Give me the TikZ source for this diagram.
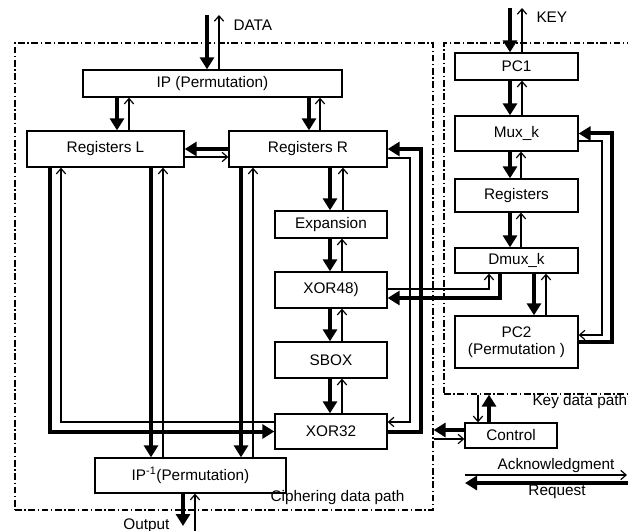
\documentclass[tikz,border=0pt]{standalone}
\usepackage{fontspec}
\setmainfont{Liberation Sans}
\usetikzlibrary{arrows.meta}

\newcommand\blkfont{\fontsize{11.5}{13}\selectfont}

\tikzset{every picture/.style={line width=0.75pt}}
\tikzset{
  blk/.style={draw, line width=1pt, fill=white, inner sep=0.75pt, font=\blkfont},
  midblk/.style={blk, minimum width=84pt},
  keyblk/.style={blk, minimum width=92.25pt},
  frame/.style={draw, line width=0.9pt, dash pattern=on 5pt off 2pt on 1pt off 2pt, inner sep=0pt},
  bus/.style={line width=3pt, -{Triangle[length=9pt,width=10.5pt]}},
  ret/.style={line width=0.9pt, -{Straight Barb[length=4pt,width=7pt]}},
  lbl/.style={inner sep=0.75pt, font=\blkfont}
}

\begin{document}
\begin{tikzpicture}[x=0.75pt,y=0.75pt,yscale=-1,xscale=1]
		\useasboundingbox (0,0) rectangle (628,531);
		
		%Frames
		\node[frame, minimum width=313.5pt, minimum height=350.25pt] (ciph) at (224,276.5) {};
		\node[frame, minimum width=154.5pt, minimum height=263.25pt] (keyf) at (547,218.5) {};
		
		%Ciphering data path
		\node[blk, minimum width=194.25pt, minimum height=20.25pt] (ip) at (212.5,83.5) {IP (Permutation)};
		\node[blk, minimum width=117.75pt, minimum height=27pt] (regL) at (105.5,149) {Registers L};
		\node[blk, minimum width=118.5pt, minimum height=27pt] (regR) at (308,149) {Registers R};
		\node[midblk, minimum height=20.25pt] (expn) at (331,224.5) {Expansion};
		\node[midblk, minimum height=27pt] (xorA) at (331,290) {XOR48)};
		\node[midblk, minimum height=27pt] (sbox) at (331,360) {SBOX};
		\node[midblk, minimum height=26.25pt] (xorB) at (331,431.5) {XOR32};
		\node[blk, minimum width=143.25pt, minimum height=26.25pt] (ipinv) at (190.5,475.5) {IP\textsuperscript{-1}(Permutation)};
		
		%Key data path
		\node[keyblk, minimum height=20.25pt] (pcA) at (516.5,66.5) {PC1};
		\node[keyblk, minimum height=26.25pt] (mux) at (516.5,133.5) {Mux\_k};
		\node[keyblk, minimum height=24.75pt] (kreg) at (516.5,195.5) {Registers};
		\node[keyblk, minimum height=18.75pt] (dmux) at (516.5,260.5) {Dmux\_k};
		\node[keyblk, minimum height=39pt, align=center] (pcB) at (516.5,342) {PC2\\(Permutation )};
		\node[blk, minimum width=69pt, minimum height=18.75pt] (ctrl) at (511,435.5) {Control};
		
		%free ends
		\coordinate (dataA) at (207,15);
		\coordinate (dataB) at (219,15);
		\coordinate (keyA) at (510,8);
		\coordinate (keyB) at (522,8);
		\coordinate (outA) at (183,526);
		\coordinate (outB) at (195,531);
		\coordinate (ackL) at (465,475);
		\coordinate (ackR) at (627,475);
		\coordinate (reqL) at (465,483);
		\coordinate (reqR) at (628,483);
		
		\draw[bus] (dataA) -- (dataA |- ip.north);
		\draw[ret] (dataB |- ip.north) -- (dataB);
		\draw[bus] (ip.south -| 117,0) -- (regL.north -| 117,0);
		\draw[ret] (regL.north -| 129,0) -- (ip.south -| 129,0);
		\draw[bus] (ip.south -| 309,0) -- (regR.north -| 309,0);
		\draw[ret] (regR.north -| 320,0) -- (ip.south -| 320,0);
		\draw[bus] (regR.west) -- (regL.east);
		\draw[ret] (regL.east |- 0,157) -- (regR.west |- 0,157);
		
		\draw[bus] (regR.south -| 330,0) -- (expn.north -| 330,0);
		\draw[ret] (expn.north -| 343,0) -- (regR.south -| 343,0);
		\draw[bus] (expn.south -| 330,0) -- (xorA.north -| 330,0);
		\draw[ret] (xorA.north -| 342,0) -- (expn.south -| 342,0);
		\draw[bus] (xorA.south -| 330,0) -- (sbox.north -| 330,0);
		\draw[ret] (sbox.north -| 342,0) -- (xorA.south -| 342,0);
		\draw[bus] (sbox.south -| 330,0) -- (xorB.north -| 330,0);
		\draw[ret] (xorB.north -| 342,0) -- (sbox.south -| 342,0);
		
		\draw[bus] (regL.south -| 50,0) |- (xorB.west);
		\draw[ret] (xorB.west |- 0,422) -| (regL.south -| 61,0);
		\draw[bus] (regL.south -| 151,0) -- (ipinv.north -| 151,0);
		\draw[ret] (ipinv.north -| 163,0) -- (regL.south -| 163,0);
		\draw[bus] (regR.south -| 241,0) -- (ipinv.north -| 241,0);
		\draw[ret] (ipinv.north -| 253,0) -- (regR.south -| 253,0);
		
		\draw[bus] (xorB.east) -| (421,149) -- (regR.east);
		\draw[ret] (regR.east |- 0,158) -| (410,422) -- (xorB.east |- 0,422);
		
		\draw[bus] (ipinv.south -| outA) -- (outA);
		\draw[ret] (outB) -- (ipinv.south -| outB);
		
		\draw[bus] (keyA) -- (keyA |- pcA.north);
		\draw[ret] (keyB |- pcA.north) -- (keyB);
		\draw[bus] (pcA.south -| 510,0) -- (mux.north -| 510,0);
		\draw[ret] (mux.north -| 522,0) -- (pcA.south -| 522,0);
		\draw[bus] (mux.south -| 510,0) -- (kreg.north -| 510,0);
		\draw[ret] (kreg.north -| 521,0) -- (mux.south -| 521,0);
		\draw[bus] (kreg.south -| 510,0) -- (dmux.north -| 510,0);
		\draw[ret] (dmux.north -| 521,0) -- (kreg.south -| 521,0);
		\draw[bus] (dmux.south -| 534,0) -- (pcB.north -| 534,0);
		\draw[ret] (pcB.north -| 546,0) -- (dmux.south -| 546,0);
		\draw[bus] (pcB.east) -| (612,133.5) -- (mux.east);
		\draw[ret] (mux.east |- 0,141) -| (602,335) -- (pcB.east |- 0,335);
		
		\draw[bus] (dmux.south -| 500,0) |- (xorA.east |- 0,298);
		\draw[ret] (xorA.east |- 0,289) -| (dmux.south -| 489,0);
		
		\draw[bus] (ctrl.north -| 489,0) -- (keyf.south -| 489,0);
		\draw[ret] (keyf.south -| 478,0) -- (ctrl.north -| 478,0);
		\draw[bus] (ctrl.west |- 0,430) -- (ciph.east |- 0,430);
		\draw[ret] (ciph.east |- 0,439) -- (ctrl.west |- 0,439);
		
		\draw[ret] (ackL) -- (ackR);
		\draw[bus] (reqR) -- (reqL);
		
		\node[lbl, anchor=west] (data) at (232,25) {DATA};
		\node[lbl, anchor=west] (key) at (535,17) {KEY};
		\node[lbl, anchor=east] (ciphlbl) at (406,498) {Ciphering data path};
		\node[lbl, anchor=west] (keylbl) at (531,402) {Key data path};
		\node[lbl, anchor=east] (outlbl) at (171,526) {Output};
		\node[lbl] (ack) at (556,466) {Acknowledgment};
		\node[lbl] (req) at (557,492) {Request};
		
	\end{tikzpicture}
\end{document}
